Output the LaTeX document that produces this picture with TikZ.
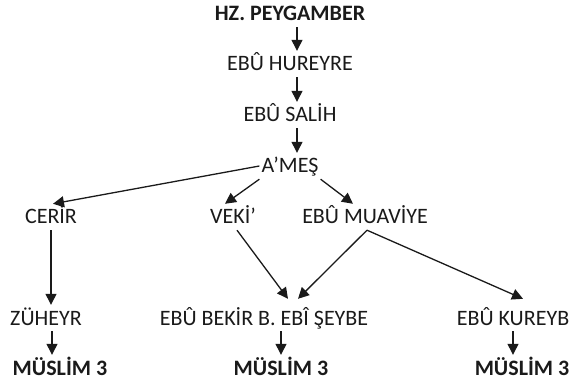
\documentclass[tikz,border=0pt]{standalone}
\usepackage{fontspec}
\setmainfont{Carlito}
\usepackage{tikz}
\usetikzlibrary{arrows.meta}
\definecolor{ink}{HTML}{1A1A1A}
\tikzset{
  ar/.style={-{Triangle[length=11pt,width=11pt]},line width=1.3pt,ink},
  nm/.style={text=ink,font=\fontsize{22}{26}\selectfont,inner xsep=2pt,inner ysep=4pt,text height=16pt,text depth=2pt},
  bnm/.style={nm,font=\fontsize{22}{26}\selectfont\bfseries}
}
\begin{document}
\begin{tikzpicture}[x=1pt,y=-1pt]
\useasboundingbox (0,0) rectangle (573,382);
\node[bnm] (hz) at (290,14) {HZ. PEYGAMBER};
\node[nm] (hureyre) at (290,64) {EBÛ HUREYRE};
\node[nm] (salih) at (290,115) {EBÛ SALİH};
\node[nm] (ames) at (290,166) {A’MEŞ};
\node[nm] (cerir) at (51,217) {CERİR};
\node[nm] (veki) at (233,217) {VEKİ’};
\node[nm] (muaviye) at (365,217) {EBÛ MUAVİYE};
\node[nm] (zuheyr) at (46,318) {ZÜHEYR};
\node[nm] (bekir) at (264,318) {EBÛ BEKİR B. EBÎ ŞEYBE};
\node[nm] (kureyb) at (513,318) {EBÛ KUREYB};
\foreach \n/\x in {m1/60,m2/281,m3/522}{\node[bnm] (\n) at (\x,368) {MÜSLİM 3};}
\draw[ar] ([xshift=7pt]hz.south) -- ([xshift=7pt]hureyre.north);
\draw[ar] ([xshift=7pt]hureyre.south) -- ([xshift=7pt]salih.north);
\draw[ar] ([xshift=7pt]salih.south) -- ([xshift=7pt]ames.north);
\draw[ar] (ames.west) -- ([xshift=2pt]cerir.north);
\draw[ar] (ames.south west) -- ([xshift=-8pt]veki.north);
\draw[ar] (ames.south east) -- ([xshift=-12pt]muaviye.north);
\draw[ar] (cerir.south) -- (cerir.south |- zuheyr.north);
\draw[ar] ([xshift=4pt]veki.south) -- ([xshift=24pt,yshift=6pt]bekir.north);
\draw[ar] ([xshift=2pt]muaviye.south) -- ([xshift=34pt,yshift=6pt]bekir.north);
\draw[ar] ([xshift=2pt]muaviye.south) -- ([xshift=10pt,yshift=6pt]kureyb.north);
\draw[ar] ([xshift=6pt]zuheyr.south) -- ([xshift=-8pt]m1.north);
\draw[ar] (bekir.south -| m2.north) -- (m2.north);
\draw[ar] (kureyb.south) -- (kureyb.south |- m3.north);
\end{tikzpicture}
\end{document}
